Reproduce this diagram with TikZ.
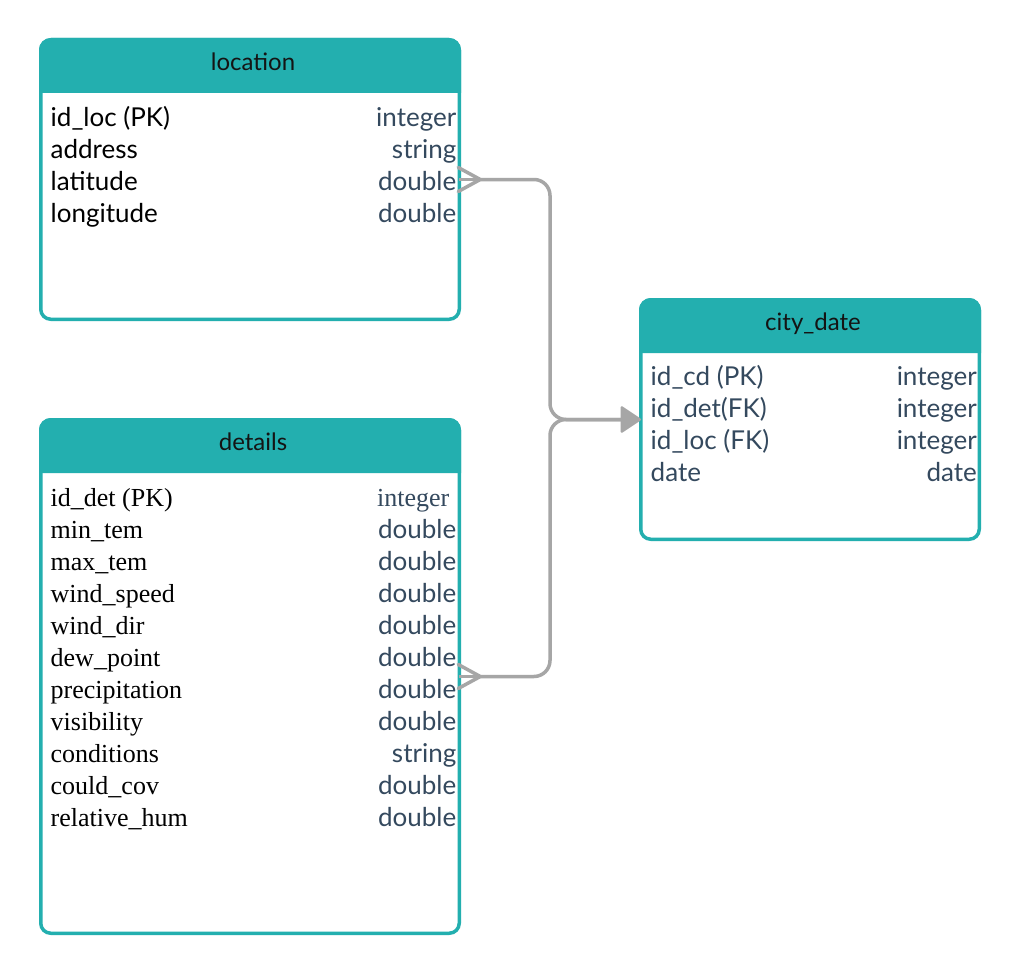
\documentclass[tikz,border=0pt]{standalone}
\usepackage{fontspec}
\setmainfont{Lato}
\newfontfamily\tnr{Liberation Serif}
\usetikzlibrary{calc}
\definecolor{tealc}{RGB}{35,175,175}
\definecolor{slate}{RGB}{52,73,94}
\definecolor{conng}{RGB}{166,166,166}
\definecolor{hdrtxt}{RGB}{20,20,20}
\begin{document}
\begin{tikzpicture}[x=1pt,y=-1pt,
  tbox/.style={draw=tealc, line width=3.5pt, rounded corners=10pt, anchor=north west,
    outer sep=0pt, inner sep=0pt},
  hdrfill/.style={fill=tealc},
  hdr/.style={anchor=base, text=hdrtxt, font=\fontsize{24}{28}\selectfont, inner sep=0pt},
  fname/.style={anchor=base west, font=\fontsize{26}{32}\selectfont, inner sep=0pt},
  ftype/.style={anchor=base east, text=slate, font=\fontsize{26}{32}\selectfont, inner sep=0pt},
  conn/.style={draw=conng, line width=3.5pt},
  headfill/.style={fill=conng, draw=conng, line width=2.5pt, line join=round}
]
\fill[white] (0,0) rectangle (1021,974);
\useasboundingbox (0,0) rectangle (1021,974);

% headers
\fill[hdrfill] (39,93) [rounded corners=12pt] -- (39,38) -- (461,38) [sharp corners] -- (461,93) -- cycle;
\fill[hdrfill] (39,473) [rounded corners=12pt] -- (39,418) -- (461,418) [sharp corners] -- (461,473) -- cycle;
\fill[hdrfill] (639,353) [rounded corners=12pt] -- (639,298) -- (981,298) [sharp corners] -- (981,353) -- cycle;

% boxes
\node[tbox, minimum width=418.5pt, minimum height=279.5pt] (loc) at (40.75,39.75) {};
\node[tbox, minimum width=418.5pt, minimum height=513.5pt] (det) at (40.75,419.75) {};
\node[tbox, minimum width=338.5pt, minimum height=239.5pt] (cd) at (640.75,299.75) {};

% titles
\node[hdr] (loct) at (253,70.5) {location};
\node[hdr] (dett) at (253,450.5) {details};
\node[hdr] (cdt) at (813,330.5) {city\_date};

% location fields
\foreach \n/\t [count=\i] in {id\_loc (PK)/integer, address/string, latitude/double, longitude/double}{
  \node[fname] (ln\i) at (50.5,{126+32*(\i-1)}) {\n};
  \node[ftype] (lt\i) at (456.5,{126+32*(\i-1)}) {\t};
}

% details fields
\node[fname, font=\fontsize{26}{32}\tnr] (dn1) at (50.5,506) {id\_det (PK)};
\node[ftype, font=\fontsize{26}{32}\tnr] (dt1) at (449.5,506) {integer};
\foreach \n/\t [count=\i from 2] in {min\_tem/double, max\_tem/double, wind\_speed/double,
  wind\_dir/double, dew\_point/double, precipitation/double, visibility/double,
  conditions/string, could\_cov/double, relative\_hum/double}{
  \node[fname, font=\fontsize{26}{32}\tnr] (dn\i) at (50.5,{506+32*(\i-1)}) {\n};
  \node[ftype] (dt\i) at (456.5,{506+32*(\i-1)}) {\t};
}

% city_date fields
\foreach \n/\t [count=\i] in {id\_cd (PK)/integer, id\_det(FK)/integer, id\_loc (FK)/integer, date/date}{
  \node[fname, text=slate] (cn\i) at (650.5,{385+32*(\i-1)}) {\n};
  \node[ftype] (ct\i) at (977,{385+32*(\i-1)}) {\t};
}

% connectors
\coordinate (bus) at (550,0);
\coordinate (lfoot) at ($(loc.east)+(21,0)$);
\coordinate (dfoot) at ($(det.east)+(21,0)$);

\draw[conn, line cap=round] ($(loc.east)+(-1,-12)$) -- (lfoot) -- ($(loc.east)+(-1,12)$);
\draw[conn] (loc.east) -- (lfoot);
\draw[conn, line cap=round] ($(det.east)+(-1,-12)$) -- (dfoot) -- ($(det.east)+(-1,12)$);
\draw[conn] (det.east) -- (dfoot);

\draw[conn, rounded corners=16pt, shorten >=15pt] (lfoot) -- (lfoot -| bus) -- (cd.west -| bus) -- (cd.west);
\draw[conn, rounded corners=16pt, shorten >=15pt] (dfoot) -- (dfoot -| bus) -- (cd.west -| bus) -- (cd.west);
\filldraw[headfill] ($(cd.west)+(-1,0)$) -- ++(-18,-12) -- ++(0,24) -- cycle;
\end{tikzpicture}
\end{document}
